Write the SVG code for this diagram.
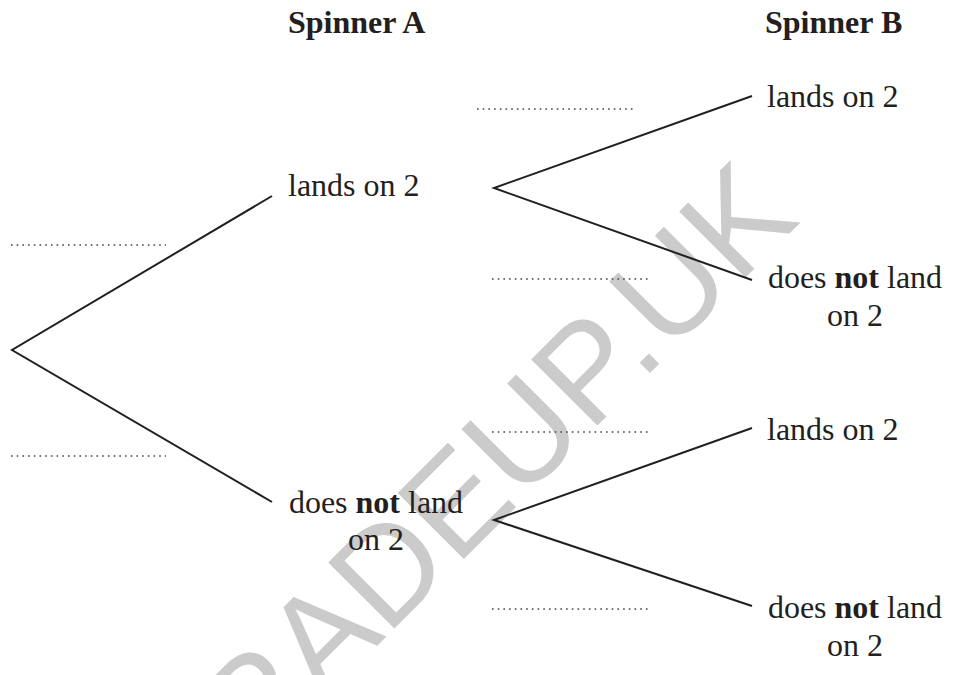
<svg xmlns="http://www.w3.org/2000/svg" width="953" height="675" viewBox="0 0 953 675">
<style>
.wm{font-family:"Liberation Sans",Arial,sans-serif;font-size:136px;fill:#cbcbcb}
.t{font-family:"Liberation Serif","Times New Roman",serif;font-size:32px;fill:#231f20}
.h{font-family:"Liberation Serif","Times New Roman",serif;font-size:32px;font-weight:bold;fill:#231f20}
.b{font-weight:bold}
.ln{stroke:#231f20;stroke-width:2;fill:none}
.dot{stroke:#444;stroke-width:1.6;stroke-dasharray:1.6 4.1;fill:none}
</style>
<rect width="953" height="675" fill="#fff"/>
<text class="wm" transform="translate(659,364) rotate(-45)" x="-680" y="0">GRADEUP.UK</text>
<g id="headings">
<text class="h" x="288" y="33">Spinner A</text>
<text class="h" x="765" y="33">Spinner B</text>
</g>
<g id="connectors">
<path class="ln" d="M272,196 L12,350 L272,502"/>
<path class="ln" d="M752,96 L494,188 L752,280"/>
<path class="ln" d="M752,428 L494,520 L752,606"/>
</g>
<g id="probability-blanks">
<path class="dot" d="M11,245 H166"/>
<path class="dot" d="M11,456 H166"/>
<path class="dot" d="M477,109 H633"/>
<path class="dot" d="M492,279 H648"/>
<path class="dot" d="M492,432 H648"/>
<path class="dot" d="M492,609 H648"/>
</g>
<g id="a-lands">
<text class="t" x="288" y="196">lands on 2</text>
</g>
<g id="a-not">
<text class="t" x="376" y="513" text-anchor="middle">does <tspan class="b">not</tspan> land</text>
<text class="t" x="376" y="550" text-anchor="middle">on 2</text>
</g>
<g id="b-lands-1">
<text class="t" x="767" y="107">lands on 2</text>
</g>
<g id="b-not-1">
<text class="t" x="855" y="288" text-anchor="middle">does <tspan class="b">not</tspan> land</text>
<text class="t" x="855" y="326" text-anchor="middle">on 2</text>
</g>
<g id="b-lands-2">
<text class="t" x="767" y="440">lands on 2</text>
</g>
<g id="b-not-2">
<text class="t" x="855" y="618" text-anchor="middle">does <tspan class="b">not</tspan> land</text>
<text class="t" x="855" y="656" text-anchor="middle">on 2</text>
</g>
</svg>
